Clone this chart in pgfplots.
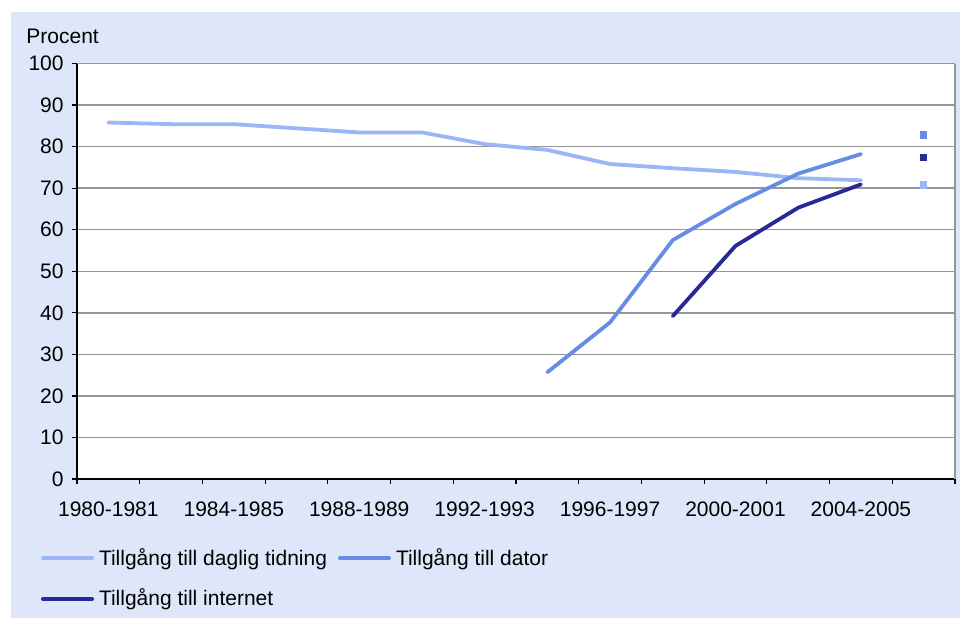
\documentclass[border=0pt]{standalone}
\usepackage{fontspec}
\setmainfont{Liberation Sans}
\usepackage{pgfplots}
\pgfplotsset{compat=1.18}
\definecolor{bg}{RGB}{222,231,250}
\definecolor{cnews}{RGB}{155,181,246}
\definecolor{cdator}{RGB}{102,140,228}
\definecolor{cnet}{RGB}{40,40,152}
\definecolor{cgrid}{RGB}{150,150,150}
\begin{document}
\fontsize{10.5pt}{12.6pt}\selectfont
\begin{tikzpicture}
\useasboundingbox (0,0) rectangle (480pt,309pt);
\fill[bg] (5.5pt,0) rectangle (480pt,303pt);
\node[anchor=base west, inner sep=0pt] at (13pt,287.3pt) {Procent};
\begin{axis}[
  at={(38.5pt,69.5pt)}, anchor=south west,
  scale only axis, width=439pt, height=207.75pt,
  xmin=-0.5, xmax=13.5, ymin=0, ymax=100,
  axis lines=left, axis line style={-, black, line width=0.75pt},
  axis background/.style={fill=white},
  ytick={0,10,...,100},
  ymajorgrids, grid style={cgrid, line width=0.7pt},
  xtick={-0.5,0.5,...,13.5}, xticklabels={},
  extra x ticks={0,2,4,6,8,10,12},
  extra x tick labels={1980-1981,1984-1985,1988-1989,1992-1993,1996-1997,2000-2001,2004-2005},
  extra x tick style={major tick length=0pt, xmajorgrids=false},
  tick align=outside, major tick length=2.5pt,
  tick style={black, line width=0.6pt},
  /pgf/number format/assume math mode=true,
  yticklabel style={inner sep=0pt, xshift=-4pt},
  xticklabel style={inner sep=0pt, yshift=-11pt},
  legend columns=2,
  legend cell align=left,
  legend style={at={(-0.041,-0.164)}, anchor=north west, draw=none, fill=none,
    inner sep=0pt, outer sep=0pt, row sep=9.3pt, nodes={inner sep=0.5pt},
    /tikz/every even column/.append style={column sep=5pt},
    /tikz/every odd column/.append style={column sep=2pt}},
  legend image code/.code={\draw[#1, line width=2pt, line cap=round] (1pt,0pt) -- (25.5pt,0pt);},
  every axis plot/.append style={line width=1.9pt, line join=round, line cap=round},
  after end axis/.code={\draw[cgrid, line width=0.9pt] (rel axis cs:1,0) -- (rel axis cs:1,1);},
]
\addplot[cnews, no marks] coordinates {
(0,85.8) (1,85.4) (2,85.4) (3,84.4) (4,83.4) (5,83.4) (6,80.6) (7,79.2) (8,75.8) (9,74.8) (10,73.9) (11,72.4) (12,71.9)};
\addlegendentry{Tillgång till daglig tidning}
\addplot[cdator, no marks] coordinates {
(7,25.7) (8,37.7) (9,57.5) (10,66.2) (11,73.5) (12,78.2)};
\addlegendentry{Tillgång till dator}
\addplot[cnet, no marks] coordinates {
(9,39.2) (10,56.1) (11,65.3) (12,70.9)};
\addlegendentry{Tillgång till internet}
\addplot[forget plot, only marks, mark=square*, mark size=1.6pt, cnews, line width=0pt] coordinates {(13,70.8)};
\addplot[forget plot, only marks, mark=square*, mark size=1.6pt, cdator, line width=0pt] coordinates {(13,82.8)};
\addplot[forget plot, only marks, mark=square*, mark size=1.6pt, cnet, line width=0pt] coordinates {(13,77.4)};
\end{axis}
\end{tikzpicture}
\end{document}
